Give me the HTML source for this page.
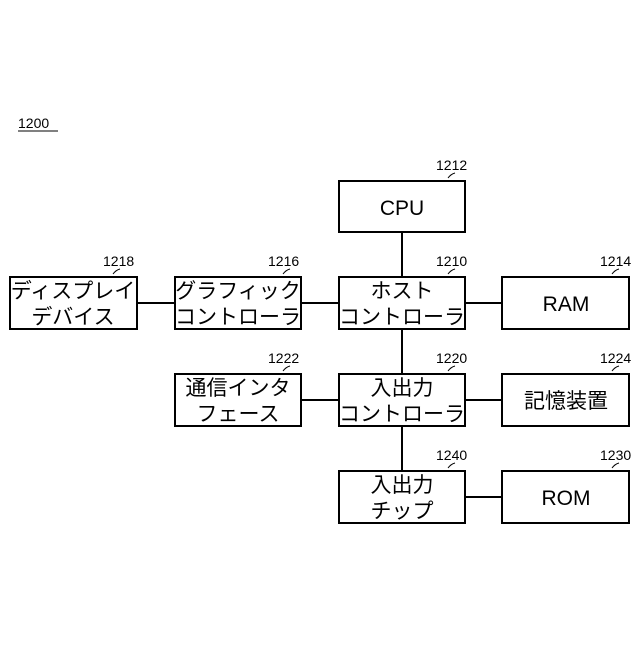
<!DOCTYPE html>
<html><head><meta charset="utf-8"><style>
html,body{margin:0;padding:0;background:#fff}
svg text{font-family:"Liberation Sans","Noto Sans CJK JP",sans-serif;fill:#000}
</style></head><body>
<svg width="640" height="640" viewBox="0 0 640 640" xmlns="http://www.w3.org/2000/svg">
<g stroke="#000" stroke-width="2" fill="none">
<line x1="402" y1="232" x2="402" y2="277"/>
<line x1="402" y1="329" x2="402" y2="374"/>
<line x1="402" y1="426" x2="402" y2="471"/>
<line x1="137" y1="303" x2="175" y2="303"/>
<line x1="301" y1="303" x2="339" y2="303"/>
<line x1="465" y1="303" x2="502" y2="303"/>
<line x1="301" y1="400" x2="339" y2="400"/>
<line x1="465" y1="400" x2="502" y2="400"/>
<line x1="465" y1="497" x2="502" y2="497"/>
<rect x="339" y="181" width="126" height="51"/>
<rect x="339" y="277" width="126" height="52"/>
<rect x="502" y="277" width="127" height="52"/>
<rect x="175" y="277" width="126" height="52"/>
<rect x="10" y="277" width="127" height="52"/>
<rect x="339" y="374" width="126" height="52"/>
<rect x="175" y="374" width="126" height="52"/>
<rect x="502" y="374" width="127" height="52"/>
<rect x="339" y="471" width="126" height="52"/>
<rect x="502" y="471" width="127" height="52"/>
</g>
<g stroke="#000" stroke-width="1" fill="none">
<path d="M448 178 q3 -4 7 -5"/>
<path d="M448 274 q3 -4 7 -5"/>
<path d="M612 274 q3 -4 7 -5"/>
<path d="M283 274 q3 -4 7 -5"/>
<path d="M113 274 q3 -4 7 -5"/>
<path d="M448 371 q3 -4 7 -5"/>
<path d="M283 371 q3 -4 7 -5"/>
<path d="M612 371 q3 -4 7 -5"/>
<path d="M448 468 q3 -4 7 -5"/>
<path d="M612 468 q3 -4 7 -5"/>
<line x1="18" y1="131" x2="58" y2="131"/>
</g>
<g font-size="14">
<text x="18" y="128">1200</text>
<text x="436" y="170">1212</text>
<text x="436" y="266">1210</text>
<text x="600" y="266">1214</text>
<text x="268" y="266">1216</text>
<text x="103" y="266">1218</text>
<text x="436" y="363">1220</text>
<text x="268" y="363">1222</text>
<text x="600" y="363">1224</text>
<text x="436" y="460">1240</text>
<text x="600" y="460">1230</text>
</g>
<g font-size="21" text-anchor="middle">
<text x="402" y="215">CPU</text>
<text x="566" y="311">RAM</text>
<text x="566" y="505">ROM</text>
<text x="402" y="298">ホスト</text>
<text x="402" y="324">コントローラ</text>
<text x="238" y="298">グラフィック</text>
<text x="238" y="324">コントローラ</text>
<text x="73" y="298">ディスプレイ</text>
<text x="73" y="324">デバイス</text>
<text x="402" y="395">入出力</text>
<text x="402" y="421">コントローラ</text>
<text x="238" y="395">通信インタ</text>
<text x="238" y="421">フェース</text>
<text x="566" y="408">記憶装置</text>
<text x="402" y="492">入出力</text>
<text x="402" y="518">チップ</text>
</g>
</svg>
</body></html>
